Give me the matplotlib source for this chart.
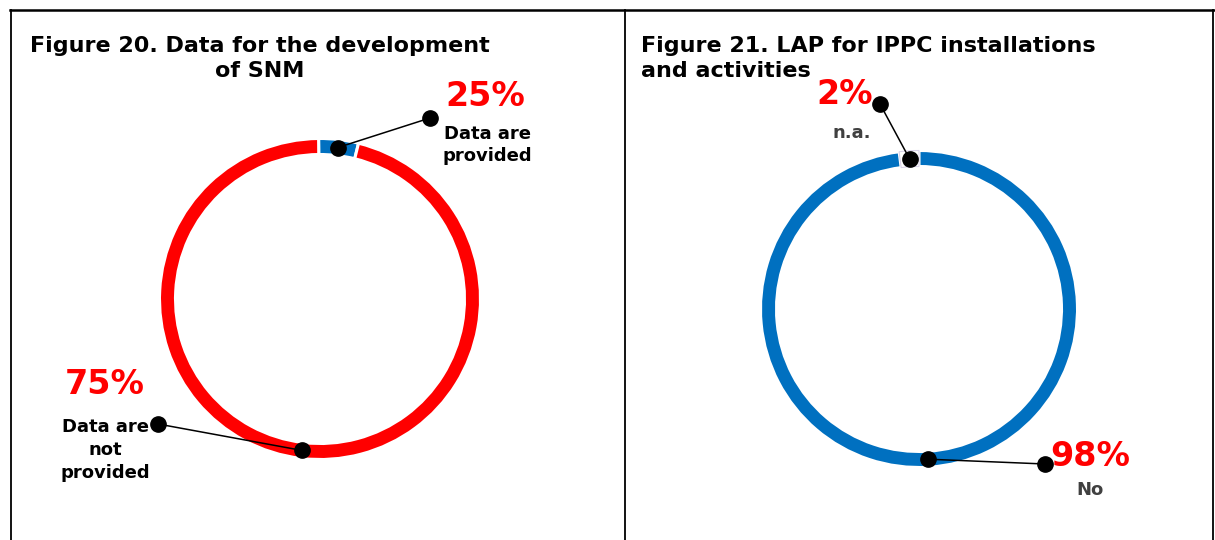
import matplotlib
matplotlib.use("Agg")
import matplotlib.pyplot as plt
import numpy as np

# --- data ---
left_title = "Figure 20. Data for the development\nof SNM"
left_labels = ["Data are\nprovided", "Data are\nnot\nprovided"]
left_pct_text = ["25%", "75%"]
left_ring = [4, 96]          # arc shares as drawn in the reference ring
left_colors = ["#0070C0", "#FF0000"]

right_title = "Figure 21. LAP for IPPC installations\nand activities"
right_labels = ["No", "n.a."]
right_pct_text = ["98%", "2%"]
right_ring = [98, 2]
right_colors = ["#0070C0", "#FFFFFF"]

W, H = 1215, 540
RED = "#FF0000"
GRAY = "#404040"


def Y(y):
    # image pixel row -> data y
    return H - y


fig = plt.figure(figsize=(W / 100, H / 100), dpi=100)
ax = fig.add_axes([0, 0, 1, 1])


def ring(values, colors, center, radius, width, startangle, edge_colors):
    wedges, _ = ax.pie(values, colors=colors, startangle=startangle, counterclock=False,
                       center=center, radius=radius, frame=True,
                       wedgeprops=dict(width=width, edgecolor="white", linewidth=2.2))
    for w, ec in zip(wedges, edge_colors):
        if ec is not None:
            w.set_edgecolor(ec)
            w.set_linewidth(0.8)
    # midpoint of each wedge on the ring centre line
    mids = []
    rr = radius - width / 2
    for w in wedges:
        a = np.deg2rad((w.theta1 + w.theta2) / 2)
        mids.append((center[0] + rr * np.cos(a), center[1] + rr * np.sin(a)))
    return mids


def leader(p_ring, p_text):
    ax.plot([p_ring[0], p_text[0]], [p_ring[1], p_text[1]], color="black", lw=1.1, zorder=4)
    ax.plot(*p_ring, "o", color="black", ms=11, zorder=5)
    ax.plot(*p_text, "o", color="black", ms=11, zorder=5)


# --- left panel ---
lm = ring(left_ring, left_colors, (320, Y(299)), 160.5, 16, 90.5, [None, None])
leader(lm[0], (430, Y(118)))
leader(lm[1], (158, Y(424)))

ax.text(30, Y(36), left_title, ha="left", va="top", multialignment="center",
        fontsize=16, fontweight="bold", linespacing=1.3)
ax.text(485, Y(97), left_pct_text[0], ha="center", va="center",
        fontsize=24, fontweight="bold", color=RED)
ax.text(487, Y(145), left_labels[0], ha="center", va="center",
        fontsize=13, fontweight="bold", linespacing=1.35)
ax.text(105, Y(385), left_pct_text[1], ha="center", va="center",
        fontsize=24, fontweight="bold", color=RED)
ax.text(105, Y(450), left_labels[1], ha="center", va="center",
        fontsize=13, fontweight="bold", linespacing=1.35)

# --- right panel ---
rm = ring(right_ring, right_colors, (919, Y(309)), 158.5, 16, 90, [None, "#D9D2E9"])
leader(rm[1], (880, Y(104)))
leader(rm[0], (1045, Y(464)))

ax.text(641, Y(36), right_title, ha="left", va="top",
        fontsize=16, fontweight="bold", linespacing=1.3)
ax.text(845, Y(95), right_pct_text[1], ha="center", va="center",
        fontsize=24, fontweight="bold", color=RED)
ax.text(852, Y(133), right_labels[1], ha="center", va="center",
        fontsize=13, fontweight="bold", color=GRAY)
ax.text(1090, Y(456), right_pct_text[0], ha="center", va="center",
        fontsize=24, fontweight="bold", color=RED)
ax.text(1090, Y(490), right_labels[0], ha="center", va="center",
        fontsize=13, fontweight="bold", color=GRAY)

# --- frame lines ---
ax.plot([10, W], [Y(10), Y(10)], color="black", lw=1.8)
for x in [11, 625, 1213]:
    ax.plot([x, x], [Y(10), 0], color="black", lw=1.3)

ax.set_xlim(0, W)
ax.set_ylim(0, H)
ax.set_aspect("auto")
ax.axis("off")

fig.savefig("out.png", dpi=100)
